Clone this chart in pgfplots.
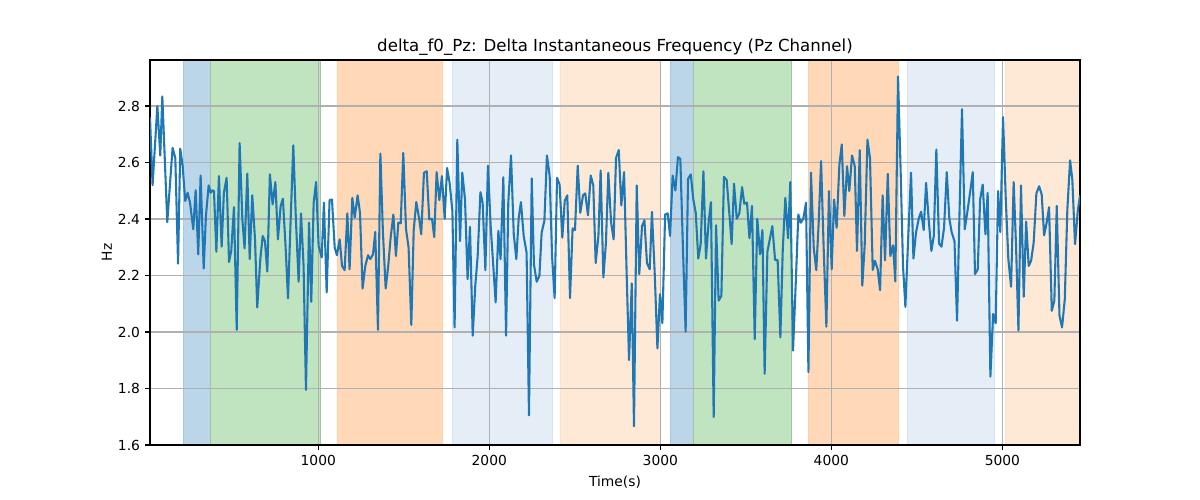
\documentclass[border=0pt]{standalone}
\usepackage{pgfplots}
\pgfplotsset{compat=1.18}
\usepackage{fontspec}
\setmainfont{DejaVu Sans}
\definecolor{tabblue}{RGB}{31,119,180}
\definecolor{bandblue}{RGB}{188,214,233}
\definecolor{bandgreen}{RGB}{192,227,192}
\definecolor{bandorange}{RGB}{255,217,183}
\definecolor{bandlblue}{RGB}{229,238,247}
\definecolor{bandpeach}{RGB}{254,233,215}
\definecolor{gridgray}{RGB}{176,176,176}
\pgfplotsset{common/.style={
  at={(108bp,39.6bp)}, anchor=south west,
  scale only axis, width=669.6bp, height=277.2bp,
  xmin=16, xmax=5454, ymin=1.6, ymax=2.963,
  xtick={1000,2000,3000,4000,5000},
  ytick={1.6,1.8,2.0,2.2,2.4,2.6,2.8},
}}
\begin{document}
\begin{tikzpicture}
\path[use as bounding box] (0,0) rectangle (864bp,360bp);
% background axis: bands and grid
\begin{axis}[common,
  axis on top,
  axis line style={draw=none},
  tick style={draw=none},
  xticklabels={}, yticklabels={},
  grid=major,
  major grid style={gridgray, line width=0.8bp},
]
\addplot[draw=bandblue!85!tabblue, line width=0.6bp, fill=bandblue] coordinates {(209,1.6) (209,2.963) (371,2.963) (371,1.6)} \closedcycle;
\addplot[draw=bandgreen!85!black, line width=0.6bp, fill=bandgreen] coordinates {(372,1.6) (372,2.963) (1014,2.963) (1014,1.6)} \closedcycle;
\addplot[draw=bandorange!90!orange, line width=0.6bp, fill=bandorange] coordinates {(1109,1.6) (1109,2.963) (1727,2.963) (1727,1.6)} \closedcycle;
\addplot[draw=bandlblue!92!tabblue, line width=0.6bp, fill=bandlblue] coordinates {(1782,1.6) (1782,2.963) (2371,2.963) (2371,1.6)} \closedcycle;
\addplot[draw=bandpeach!92!orange, line width=0.6bp, fill=bandpeach] coordinates {(2413,1.6) (2413,2.963) (2998,2.963) (2998,1.6)} \closedcycle;
\addplot[draw=bandblue!85!tabblue, line width=0.6bp, fill=bandblue] coordinates {(3057,1.6) (3057,2.963) (3193,2.963) (3193,1.6)} \closedcycle;
\addplot[draw=bandgreen!85!black, line width=0.6bp, fill=bandgreen] coordinates {(3193,1.6) (3193,2.963) (3768,2.963) (3768,1.6)} \closedcycle;
\addplot[draw=bandorange!90!orange, line width=0.6bp, fill=bandorange] coordinates {(3864,1.6) (3864,2.963) (4394,2.963) (4394,1.6)} \closedcycle;
\addplot[draw=bandlblue!92!tabblue, line width=0.6bp, fill=bandlblue] coordinates {(4443,1.6) (4443,2.963) (4951,2.963) (4951,1.6)} \closedcycle;
\addplot[draw=bandpeach!92!orange, line width=0.6bp, fill=bandpeach] coordinates {(5016,1.6) (5016,2.963) (5454,2.963) (5454,1.6)} \closedcycle;
\end{axis}
% foreground axis: signal, axes, ticks, labels
\begin{axis}[common,
  axis line style={line width=0.8bp},
  tick align=outside, tick pos=left,
  major tick length=3.5bp,
  every tick/.style={black, line width=0.8bp},
  /pgf/number format/assume math mode=true,
  x tick label style={/pgf/number format/1000 sep={}},
  y tick label style={/pgf/number format/fixed, /pgf/number format/fixed zerofill, /pgf/number format/precision=1},
  tick label style={font=\fontsize{10}{12}\selectfont},
  xticklabel style={anchor=north, inner sep=0pt, yshift=-3.5bp},
  yticklabel style={anchor=east, inner sep=0pt, xshift=-3.5bp},
  title={delta\_f0\_Pz: Delta Instantaneous Frequency (Pz Channel)},
  title style={at={(axis description cs:0.5,1)}, anchor=base, inner sep=0pt, yshift=0.3bp, font=\fontsize{12}{14}\selectfont},
  xlabel={Time(s)},
  xlabel style={at={(axis description cs:0.5,0)}, anchor=base, inner sep=0pt, yshift=-29.7bp, font=\fontsize{10}{12}\selectfont},
  ylabel={Hz},
  ylabel style={at={(axis description cs:-0.0409,0.5)}, anchor=base, inner sep=0pt, font=\fontsize{10}{12}\selectfont},
]
\addplot[tabblue, line width=1.5bp, no markers, line join=round] coordinates {
(16,2.76) (31,2.52) (59,2.80) (76,2.625) (88,2.834) (117,2.389) (148,2.652) (164,2.616) (180,2.242) (193,2.649)
(207,2.587) (222,2.464) (236,2.493) (250,2.458) (269,2.364) (283,2.502) (298,2.275) (312,2.554) (330,2.225) (343,2.411)
(359,2.519) (371,2.493) (380,2.502) (390,2.499) (404,2.284) (419,2.552) (435,2.302) (448,2.493) (464,2.546) (478,2.248)
(491,2.287) (507,2.442) (523,2.008) (540,2.669) (556,2.399) (569,2.296) (585,2.561) (599,2.258) (614,2.484) (630,2.328)
(643,2.087) (661,2.258) (675,2.340) (688,2.322) (702,2.214) (717,2.558) (733,2.452) (749,2.531) (764,2.328) (780,2.446)
(793,2.472) (809,2.30) (823,2.119) (838,2.39) (854,2.661) (869,2.399) (885,2.178) (899,2.420) (914,2.234) (928,1.795)
(946,2.387) (959,2.107) (973,2.458) (987,2.531) (1002,2.305) (1020,2.264) (1033,2.458) (1049,2.140) (1066,2.467) (1080,2.469)
(1096,2.299) (1109,2.272) (1125,2.328) (1139,2.234) (1154,2.219) (1170,2.420) (1183,2.222) (1199,2.475) (1213,2.405) (1230,2.484)
(1244,2.422) (1259,2.154) (1275,2.234) (1291,2.272) (1304,2.258) (1320,2.275) (1333,2.354) (1349,2.008) (1363,2.632) (1378,2.352)
(1394,2.154) (1409,2.234) (1423,2.334) (1439,2.416) (1454,2.269) (1468,2.387) (1482,2.385) (1497,2.634) (1513,2.364) (1528,2.299)
(1544,2.025) (1558,2.361) (1573,2.460) (1589,2.405) (1602,2.346) (1618,2.564) (1634,2.569) (1649,2.399) (1665,2.401) (1678,2.336)
(1692,2.566) (1708,2.467) (1723,2.552) (1739,2.401) (1753,2.581) (1768,2.528) (1784,2.428) (1797,2.016) (1813,2.681) (1829,2.322)
(1842,2.564) (1858,2.469) (1873,2.187) (1887,2.372) (1903,1.987) (1918,2.164) (1932,2.269) (1948,2.495) (1961,2.458) (1977,2.219)
(1992,2.589) (2008,2.375) (2022,2.246) (2037,2.105) (2053,2.358) (2066,2.258) (2082,2.548) (2098,1.987) (2111,2.458) (2127,2.625)
(2143,2.346) (2158,2.258) (2172,2.405) (2185,2.460) (2201,2.340) (2218,2.281) (2232,1.705) (2248,2.544) (2261,2.240) (2277,2.178)
(2293,2.199) (2306,2.352) (2322,2.393) (2337,2.625) (2353,2.552) (2367,2.269) (2382,2.120) (2396,2.546) (2411,2.522) (2427,2.334)
(2441,2.464) (2456,2.484) (2472,2.120) (2487,2.367) (2501,2.361) (2517,2.589) (2532,2.422) (2548,2.484) (2561,2.491) (2577,2.413)
(2593,2.554) (2608,2.519) (2622,2.244) (2638,2.340) (2651,2.572) (2667,2.193) (2682,2.316) (2696,2.564) (2712,2.389) (2727,2.328)
(2741,2.616) (2757,2.644) (2772,2.448) (2788,2.566) (2803,2.21) (2817,1.901) (2833,2.172) (2846,1.666) (2862,2.519) (2877,2.205)
(2893,2.375) (2907,2.396) (2922,2.244) (2938,2.222) (2951,2.425) (2967,2.211) (2983,1.942) (2998,2.134) (3012,2.031) (3028,2.416)
(3043,2.420) (3057,2.340) (3072,2.554) (3088,2.501) (3103,2.619) (3117,2.613) (3133,2.281) (3148,2.001) (3162,2.542) (3178,2.558)
(3193,2.469) (3207,2.422) (3222,2.260) (3236,2.311) (3252,2.569) (3267,2.260) (3283,2.393) (3296,2.460) (3312,1.699) (3326,2.378)
(3341,2.111) (3357,2.128) (3372,2.549) (3388,2.538) (3404,2.416) (3417,2.311) (3431,2.525) (3447,2.401) (3462,2.420) (3478,2.513)
(3491,2.454) (3507,2.458) (3521,2.332) (3536,2.446) (3552,1.975) (3567,2.401) (3583,2.275) (3597,2.361) (3610,1.852) (3626,2.284)
(3642,2.334) (3655,2.375) (3671,2.255) (3686,2.255) (3702,1.981) (3716,2.293) (3731,2.475) (3747,2.332) (3760,2.531) (3776,1.934)
(3792,2.175) (3807,2.416) (3821,2.387) (3836,2.401) (3852,2.458) (3866,1.858) (3881,2.564) (3897,2.299) (3912,2.219) (3926,2.387)
(3940,2.605) (3955,2.299) (3971,2.019) (3986,2.499) (4002,2.222) (4016,2.469) (4031,2.369) (4047,2.593) (4061,2.664) (4076,2.411)
(4092,2.587) (4105,2.499) (4121,2.625) (4137,2.587) (4150,2.287) (4166,2.644) (4181,2.164) (4195,2.307) (4211,2.681) (4226,2.616)
(4242,2.220) (4255,2.252) (4271,2.222) (4285,2.148) (4300,2.484) (4314,2.254) (4330,2.560) (4345,2.269) (4361,2.307) (4374,2.179)
(4390,2.905) (4405,2.575) (4419,2.234) (4433,2.089) (4449,2.328) (4466,2.564) (4480,2.260) (4495,2.352) (4511,2.401) (4525,2.426)
(4540,2.361) (4554,2.528) (4569,2.399) (4585,2.287) (4599,2.340) (4614,2.646) (4630,2.313) (4644,2.302) (4659,2.369) (4675,2.566)
(4690,2.401) (4704,2.352) (4720,2.322) (4735,2.040) (4749,2.411) (4764,2.789) (4780,2.364) (4796,2.428) (4811,2.493) (4827,2.566)
(4840,2.205) (4856,2.222) (4870,2.469) (4885,2.522) (4901,2.346) (4914,2.493) (4930,1.842) (4946,2.064) (4961,2.031) (4975,2.499)
(4988,2.354) (5004,2.761) (5020,2.469) (5035,2.258) (5051,2.160) (5066,2.531) (5080,2.305) (5094,2.005) (5109,2.519) (5125,2.125)
(5139,2.391) (5154,2.234) (5168,2.252) (5183,2.316) (5199,2.491) (5215,2.516) (5230,2.487) (5244,2.342) (5259,2.387) (5273,2.442)
(5289,2.075) (5304,2.111) (5318,2.446) (5334,2.058) (5349,2.016) (5365,2.116) (5380,2.434) (5396,2.608) (5409,2.540) (5425,2.311)
(5441,2.428) (5454,2.484)
};
\end{axis}
\end{tikzpicture}
\end{document}
